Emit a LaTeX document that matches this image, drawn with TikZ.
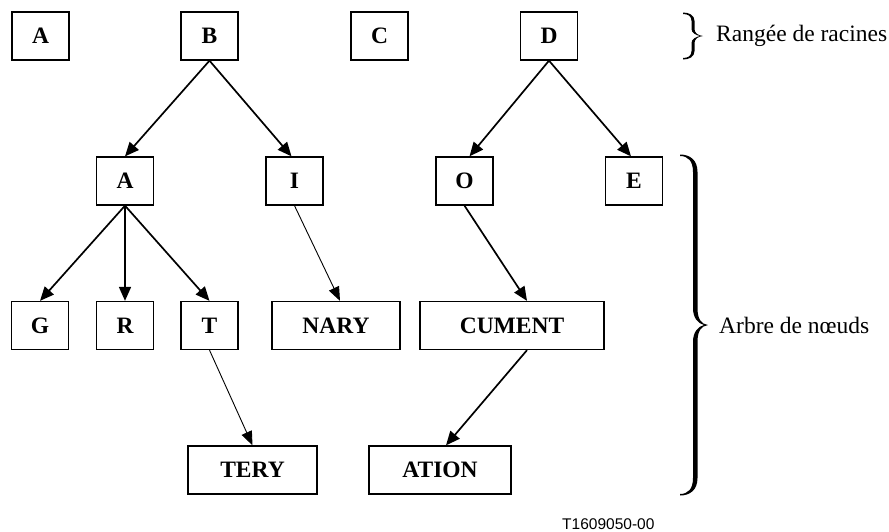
\documentclass[tikz,border=0pt]{standalone}
\usepackage{fontspec}
\setmainfont{Liberation Serif}
\newfontfamily\labelsans{Liberation Sans}
\usetikzlibrary{arrows.meta}
\tikzset{
  box/.style={draw, line width=1.3pt, minimum height=48pt, minimum width=57pt, inner sep=0pt,
              font=\fontsize{23.5}{27}\selectfont\bfseries},
  arr/.style={line width=1.7pt, -{Triangle[length=14pt,width=12pt]}},
  thinarr/.style={line width=0.9pt, -{Triangle[length=14pt,width=11pt]}},
  sidetext/.style={anchor=west, inner sep=0pt, font=\fontsize{23.5}{27}\selectfont},
}
\begin{document}
\begin{tikzpicture}[x=1pt,y=-1pt]
\useasboundingbox (0,0) rectangle (889,531);
% root row
\node[box] (rA) at (40.5,36) {A};
\node[box] (rB) at (209.5,36) {B};
\node[box] (rC) at (379.5,36) {C};
\node[box] (rD) at (549,36) {D};
% level 2
\node[box] (nA) at (125,181) {A};
\node[box] (nI) at (294.5,181) {I};
\node[box] (nO) at (464.5,181) {O};
\node[box] (nE) at (634,181) {E};
% level 3
\node[box] (nG) at (40,325.5) {G};
\node[box] (nR) at (125,325.5) {R};
\node[box] (nT) at (209.5,325.5) {T};
\node[box, minimum width=128pt] (nNARY) at (336,325.5) {NARY};
\node[box, minimum width=184pt] (nCUMENT) at (512,325.5) {CUMENT};
% level 4
\node[box, minimum width=129pt] (nTERY) at (252.5,470) {TERY};
\node[box, minimum width=142pt] (nATION) at (440,470) {ATION};
% connectors
\draw[arr] (rB.south) -- (nA.north);
\draw[arr] (rB.south) -- ([xshift=-3pt]nI.north);
\draw[arr] (rD.south) -- ([xshift=5pt]nO.north);
\draw[arr] (rD.south) -- ([xshift=-3pt]nE.north);
\draw[arr] (nA.south) -- (nG.north);
\draw[arr] (nA.south) -- (nR.north);
\draw[arr] (nA.south) -- (nT.north);
\draw[thinarr] (nI.south) -- ([xshift=4pt]nNARY.north);
\draw[arr] (nO.south) -- ([xshift=15pt]nCUMENT.north);
\draw[thinarr] (nT.south) -- (nTERY.north);
\draw[arr] ([xshift=15pt]nCUMENT.south) -- ([xshift=6pt]nATION.north);
% small brace
\fill (683,12.5) .. controls (689,12.5) and (694.5,15) .. (694.5,21) -- (694.5,29)
  .. controls (694.5,33) and (698,35.5) .. (703,36)
  .. controls (698,36.5) and (694.5,39) .. (694.5,43) -- (694.5,51)
  .. controls (694.5,57) and (689,59.5) .. (683,59.5) -- (683,58)
  .. controls (688,58) and (691.5,56) .. (691.5,51) -- (691.5,43)
  .. controls (691.5,39) and (696,36.8) .. (700,36)
  .. controls (696,35.2) and (691.5,33) .. (691.5,29) -- (691.5,21)
  .. controls (691.5,16) and (688,14) .. (683,14) -- cycle;
\node[sidetext] (roots) at (716,36) {Rangée de racines};
% big brace
\fill (680,154.5) .. controls (690,154.5) and (697.5,160) .. (697.5,172) -- (697.5,308)
  .. controls (697.5,319) and (701,324) .. (708,325)
  .. controls (701,326) and (697.5,331) .. (697.5,342) -- (697.5,478)
  .. controls (697.5,490) and (690,495.5) .. (680,495.5) -- (680,494)
  .. controls (688,494) and (693,489) .. (693,478) -- (693,342)
  .. controls (693,332) and (698,326.5) .. (704,325)
  .. controls (698,323.5) and (693,318) .. (693,308) -- (693,172)
  .. controls (693,161) and (688,156) .. (680,156) -- cycle;
\node[sidetext] (tree) at (719,325) {Arbre de nœuds};
% figure code
\node[anchor=west, inner sep=0pt, font=\labelsans\fontsize{15.5}{18}\selectfont] (code) at (562,524) {T1609050-00};
\end{tikzpicture}
\end{document}
